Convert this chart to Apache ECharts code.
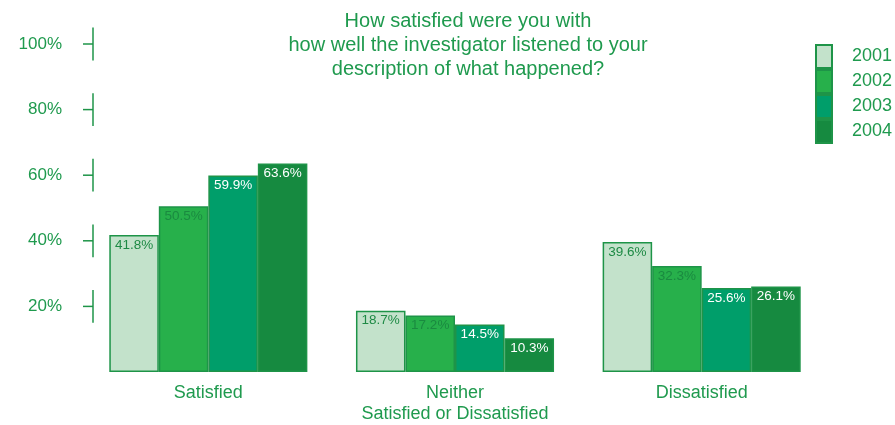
<!DOCTYPE html>
<html>
<head>
<meta charset="utf-8">
<script src="https://cdn.jsdelivr.net/npm/echarts@6/dist/echarts.min.js"></script>
<style>html,body{margin:0;padding:0;background:#fff;}#c{width:895px;height:425px;}</style>
</head>
<body>
<div id="c"></div>
<script>
var categories = ['Satisfied', 'Neither\nSatisfied or Dissatisfied', 'Dissatisfied'];
var years = ['2001', '2002', '2003', '2004'];
var v2001 = [41.8, 18.7, 39.6];
var v2002 = [50.5, 17.2, 32.3];
var v2003 = [59.9, 14.5, 25.6];
var v2004 = [63.6, 10.3, 26.1];
var yTicks = [20, 40, 60, 80, 100];
var titleText = 'How satisfied were you with\nhow well the investigator listened to your\ndescription of what happened?';

var green = '#1f9a4e';
var border = '#1e9448';
var fills = ['#c3e2cb', '#27b04b', '#009e6a', '#168a40'];
var labelColors = ['#1e8a45', '#1a8a40', '#ffffff', '#ffffff'];
var seriesValues = [v2001, v2002, v2003, v2004];
var font = 'Liberation Sans, Arial, sans-serif';

var chart = echarts.init(document.getElementById('c'));
var series = years.map(function (y, i) {
  return {
    name: y,
    type: 'bar',
    data: seriesValues[i],
    barGap: '0%',
    barCategoryGap: '19.7%',
    itemStyle: { color: fills[i], borderColor: border, borderWidth: 1.5 },
    label: {
      show: true,
      position: 'insideTop',
      distance: 3,
      color: labelColors[i],
      fontSize: 13.5,
      fontFamily: font,
      formatter: function (p) { return p.value.toFixed(1) + '%'; }
    },
    emphasis: { disabled: true },
    animation: false
  };
});
series.push({
  type: 'custom',
  silent: true,
  animation: false,
  data: yTicks.map(function (t) { return [0, t]; }),
  encode: { x: 0, y: 1 },
  renderItem: function (params, api) {
    var v = api.value(1);
    var yMid = api.coord([0, v])[1];
    var yTop = api.coord([0, v + 5])[1];
    var yBot = api.coord([0, v - 5])[1];
    var x = params.coordSys.x + 8;
    return {
      type: 'group',
      children: [
        { type: 'line', shape: { x1: x, y1: yTop, x2: x, y2: yBot }, style: { stroke: border, lineWidth: 1.5 } },
        { type: 'line', shape: { x1: x - 10, y1: yMid, x2: x, y2: yMid }, style: { stroke: border, lineWidth: 1.5 } }
      ]
    };
  }
});

chart.setOption({
  animation: false,
  title: {
    text: titleText,
    left: 463,
    top: 4,
    textAlign: 'center',
    textStyle: { color: green, fontSize: 20, fontWeight: 'normal', fontFamily: font, lineHeight: 24 }
  },
  legend: {
    data: years,
    orient: 'vertical',
    left: 815,
    top: 44,
    padding: 0,
    itemGap: 0,
    itemWidth: 16,
    itemHeight: 23,
    icon: 'rect',
    selectedMode: false,
    textStyle: { color: green, fontSize: 18, lineHeight: 18, fontFamily: font, padding: [0, 0, 0, 15] }
  },
  grid: { left: 85, right: 70, top: 44, bottom: 53 },
  xAxis: {
    type: 'category',
    data: categories,
    axisLine: { show: false },
    axisTick: { show: false },
    axisLabel: { color: green, fontSize: 18, fontFamily: font, margin: 11, lineHeight: 21 }
  },
  yAxis: {
    type: 'value',
    min: 0,
    max: 100,
    interval: 20,
    offset: -8,
    splitLine: { show: false },
    axisLine: { show: false },
    axisTick: { show: false },
    axisLabel: {
      color: green, fontSize: 17, fontFamily: font, margin: 31,
      formatter: function (v) { return v === 0 ? '' : v + '%'; }
    }
  },
  series: series
});
</script>
</body>
</html>
